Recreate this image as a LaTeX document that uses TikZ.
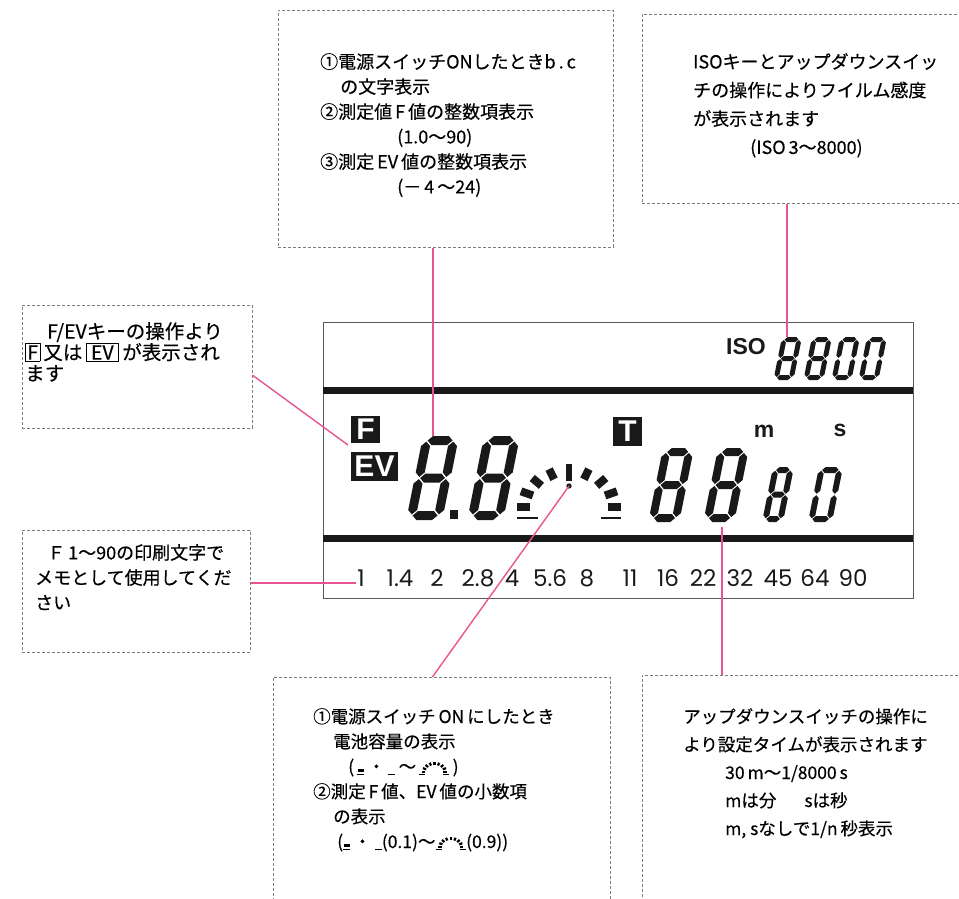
\documentclass[tikz,border=0pt]{standalone}
\usepackage{fontspec}
\setmainfont{Noto Sans CJK JP}[RawFeature={embolden=0.4}]
\newfontfamily\lcdfont{Liberation Sans}
\newfontfamily\scalefont{Poppins}
\usepackage{tikz}
\usetikzlibrary{positioning}
\definecolor{leader}{RGB}{231, 84, 148}
\definecolor{dashgray}{RGB}{125, 125, 125}
\definecolor{framegray}{RGB}{90, 90, 90}
\definecolor{ink}{RGB}{25, 25, 25}
\setlength{\fboxsep}{1.5pt}
\setlength{\fboxrule}{0.6pt}
\newcommand{\hseg}[3]{
  \fill[ink] ({(#1)+\Sg},{#3}) -- ({(#1)+\Sg+\St/2},{(#3)-\St/2})
    -- ({(#2)-\Sg-\St/2},{(#3)-\St/2}) -- ({(#2)-\Sg},{#3})
    -- ({(#2)-\Sg-\St/2},{(#3)+\St/2}) -- ({(#1)+\Sg+\St/2},{(#3)+\St/2}) -- cycle;
}
\newcommand{\vseg}[3]{
  \fill[ink] ({#1},{(#2)+\Sg}) -- ({(#1)+\St/2},{(#2)+\Sg+\St/2})
    -- ({(#1)+\St/2},{(#3)-\Sg-\St/2}) -- ({#1},{(#3)-\Sg})
    -- ({(#1)-\St/2},{(#3)-\Sg-\St/2}) -- ({(#1)-\St/2},{(#2)+\Sg+\St/2}) -- cycle;
}
\newcommand{\segdigit}[6]{
  \begin{scope}[shift={(#1,#2)}, xslant=0.2]
    \pgfmathsetmacro{\Sw}{#3}
    \pgfmathsetmacro{\Sh}{#4}
    \pgfmathsetmacro{\St}{#5}
    \pgfmathsetmacro{\Sg}{0.12*#5}
    \hseg{\St/2}{\Sw-\St/2}{\St/2}
    \hseg{\St/2}{\Sw-\St/2}{\Sh-\St/2}
    \ifnum#6=1 \hseg{\St/2}{\Sw-\St/2}{\Sh/2}\fi
    \vseg{\St/2}{\St/2}{\Sh/2}
    \vseg{\St/2}{\Sh/2}{\Sh-\St/2}
    \vseg{\Sw-\St/2}{\St/2}{\Sh/2}
    \vseg{\Sw-\St/2}{\Sh/2}{\Sh-\St/2}
  \end{scope}
}
\newcommand{\minigauge}{\tikz[x=1pt, y=1pt, baseline=0pt]{
  \foreach \ang in {0,22.5,...,180}
    \draw[line width=2.2pt] ({9*cos(\ang)},{1+7*sin(\ang)}) -- ({12.5*cos(\ang)},{1+10*sin(\ang)});
  \draw[line width=0.7pt] (-15,-1.5) -- (-9,-1.5) (9,-1.5) -- (15,-1.5);
}}
\newcommand{\segmark}{\tikz[x=1pt, y=1pt, baseline=0pt]{
  \fill (0,1) rectangle (6,4);
  \draw[line width=0.7pt] (-0.5,-1.5) -- (6.5,-1.5);
}}
\newcommand{\lowbar}{\tikz[x=1pt, y=1pt, baseline=0pt]{
  \draw[line width=0.7pt] (0,-1.5) -- (7,-1.5);
}}

\begin{document}
\begin{tikzpicture}[x=1pt, y=-1pt,
  notebox/.style={draw=dashgray, dash pattern=on 3pt off 2pt, line width=0.8pt,
    inner sep=0pt, anchor=north west},
  notetext/.style={inner sep=0pt, align=left, text=black},
  leadline/.style={leader, line width=1.4pt},
  lcdtag/.style={fill=ink, text=white, inner sep=0pt,
    font=\lcdfont\bfseries\fontsize{30}{30}\selectfont},
  lcdlabel/.style={inner sep=0pt, text=ink,
    font=\lcdfont\bfseries\fontsize{23}{23}\selectfont},
  fnum/.style={inner sep=1pt, text=ink,
    font=\scalefont\fontsize{23}{24}\selectfont}]

  \useasboundingbox (0,0) rectangle (959,899);

  % Note boxes
  \node[notebox, minimum width=335pt, minimum height=237pt] (bcbox) at (278,10) {};
  \node[notebox, minimum width=333pt, minimum height=189pt] (isobox) at (642,14) {};
  \node[notebox, minimum width=230pt, minimum height=123pt] (fevbox) at (22,305) {};
  \node[notebox, minimum width=228pt, minimum height=122pt] (memobox) at (22,530) {};
  \node[notebox, minimum width=337pt, minimum height=240pt] (batbox) at (273,677) {};
  \node[notebox, minimum width=333pt, minimum height=245pt] (timebox) at (642,675) {};

  \node[notetext, below right=43pt and 42pt of bcbox.north west,
        font=\fontsize{18}{25}\selectfont] (bctext)
    {①電源スイッチONしたときb\,.\,c\\
     \hspace*{20pt}の文字表示\\
     ②測定値\,F\,値の整数項表示\\
     \hspace*{77pt}(1.0～90)\\
     ③測定\,EV\,値の整数項表示\\
     \hspace*{77pt}(－\,4\,～24)};

  \node[notetext, below right=39pt and 51pt of isobox.north west,
        font=\fontsize{18}{28.5}\selectfont] (isotext)
    {ISOキーとアップダウンスイッ\\
     チの操作によりフイルム感度\\
     が表示されます\\
     \hspace*{57pt}(ISO\,3～8000)};

  \node[notetext, below right=17pt and 3pt of fevbox.north west,
        font=\fontsize{19.5}{21}\selectfont] (fevtext)
    {\hspace*{22pt}F/EVキーの操作より\\
     \fbox{F}\,又は\,\fbox{\,EV\,}\,が表示され\\
     ます};

  \node[notetext, below right=14pt and 13pt of memobox.north west,
        font=\fontsize{18}{25}\selectfont] (memotext)
    {\hspace*{12pt}Ｆ\,1～90の印刷文字で\\
     メモとして使用してくだ\\
     さい};

  \node[notetext, below right=31pt and 40pt of batbox.north west,
        font=\fontsize{17.5}{25}\selectfont] (battext)
    {①電源スイッチ\,ON\,にしたとき\\
     \hspace*{20pt}電池容量の表示\\
     \hspace*{35pt}(\,\segmark\,・\,\lowbar\,～\,\minigauge\,)\\
     ②測定\,F\,値、EV\,値の小数項\\
     \hspace*{20pt}の表示\\
     \hspace*{24pt}(\segmark\,・\,\lowbar(0.1)～\minigauge(0.9))};

  \node[notetext, below right=33pt and 41pt of timebox.north west,
        font=\fontsize{17.5}{28}\selectfont] (timetext)
    {アップダウンスイッチの操作に\\
     より設定タイムが表示されます\\
     \hspace*{42pt}30\,m～1/8000\,s\\
     \hspace*{42pt}mは分\hspace{28pt}sは秒\\
     \hspace*{42pt}m, sなしで1/n\,秒表示};

  % Display
  \draw[framegray, line width=1pt] (323,322) rectangle (913,598);
  \fill[ink] (323,387) rectangle (913,394);
  \fill[ink] (323,535) rectangle (913,542);

  \node[lcdlabel] (isolabel) at (746,347) {ISO};
  \node[lcdlabel] (mlabel) at (764,431) {m};
  \node[lcdlabel] (slabel) at (840,430) {s};
  \node[lcdtag, minimum width=29pt, minimum height=27pt] (ftag) at (365.5,429.5) {F};
  \node[lcdtag, minimum width=47pt, minimum height=29pt] (evtag) at (374.5,466.5) {EV};
  \node[lcdtag, minimum width=29pt, minimum height=29pt] (ttag) at (627.5,431.5) {T};

  % Digits
  \segdigit{782}{337}{20}{43}{5}{1}
  \segdigit{812}{337}{20}{43}{5}{1}
  \segdigit{840}{337}{20}{43}{5}{0}
  \segdigit{867}{337}{20}{43}{5}{0}

  \segdigit{423}{436}{36}{84}{9}{1}
  \fill[ink] (450,510) rectangle (458,519);
  \segdigit{484}{436}{36}{84}{9}{1}

  \segdigit{663}{448}{31}{74}{8}{1}
  \segdigit{718}{448}{31}{74}{8}{1}
  \segdigit{773}{467}{21}{55}{6}{1}
  \segdigit{819}{467}{24}{55}{6}{0}

  % Gauge
  \pgfmathsetmacro{\Gx}{569}
  \pgfmathsetmacro{\Gy}{507}
  \foreach \ang in {0,22.5,45,67.5,112.5,135,157.5,180}
    \draw[ink, line width=8pt] ({\Gx+39*cos(\ang)},{\Gy-30*sin(\ang)})
      -- ({\Gx+52*cos(\ang)},{\Gy-41*sin(\ang)});
  \draw[ink, line width=6.5pt] (\Gx,464) -- (\Gx,481);
  \coordinate (gaugedot) at (\Gx,486);
  \fill[ink] (gaugedot) circle[radius=2.7pt];
  \draw[ink, line width=2pt] (517,518) -- (538,518) (601,518) -- (621,518);

  % F-number scale
  \foreach \v/\x [count=\i] in {1/361, 1.4/400, 2/437, 2.8/478, 4/512, 5.6/550,
      8/587, 11/630, 16/668, 22/703, 32/740, 45/778, 64/815, 90/853}
    \node[fnum] (fnum\i) at (\x,578.5) {\v};

  % Leaders
  \coordinate (bcpoint) at (433,436);
  \coordinate (isopoint) at (787,337);
  \coordinate (fevpoint) at (348,445);
  \coordinate (timepoint) at (722,527);
  \coordinate (onefoot) at ([yshift=-4.5pt]fnum1.west);
  \draw[leadline] (bcbox.south -| bcpoint) -- (bcpoint);
  \draw[leadline] (isobox.south -| isopoint) -- (isopoint);
  \draw[leadline] ([yshift=-8.5pt]fevbox.east) -- (fevpoint);
  \draw[leadline] (memobox.east |- onefoot) -- (onefoot);
  \draw[leadline] (gaugedot) -- ([xshift=-9.5pt]batbox.north);
  \draw[leadline] (timepoint) -- (timebox.north -| timepoint);

\end{tikzpicture}
\end{document}
